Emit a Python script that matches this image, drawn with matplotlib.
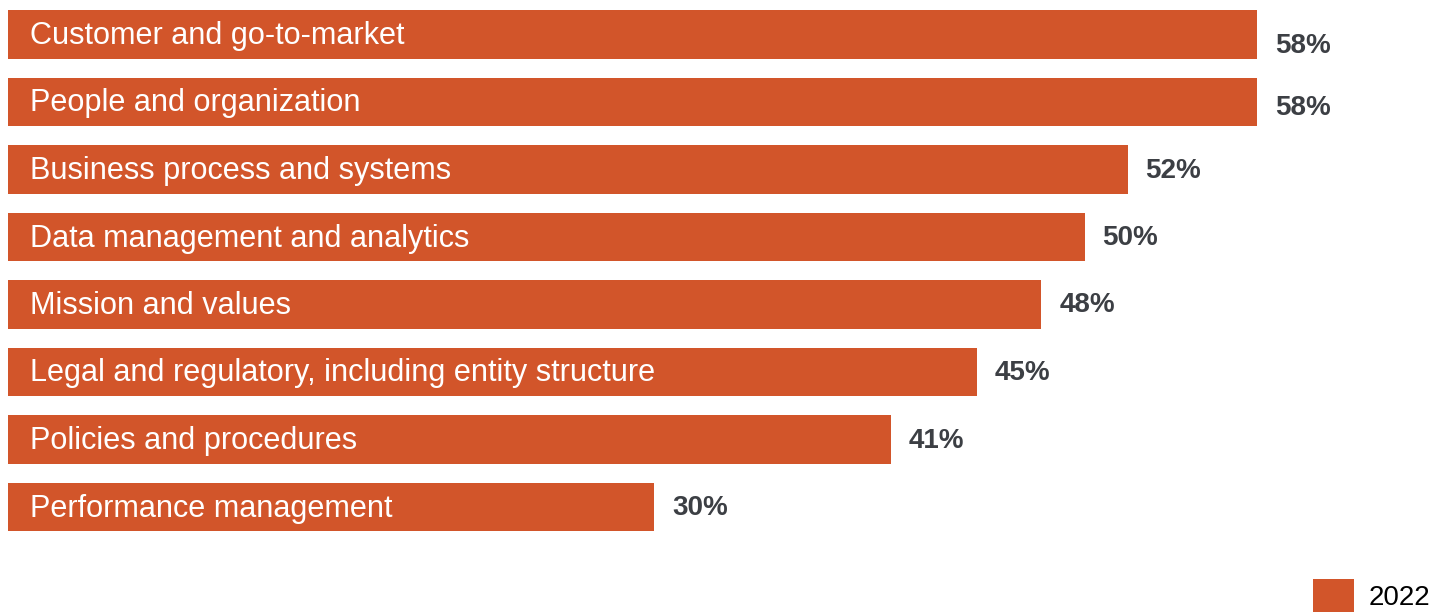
import matplotlib
matplotlib.use('Agg')
import matplotlib.pyplot as plt
from matplotlib.patches import Patch

plt.rcParams['font.family'] = ['Liberation Sans', 'DejaVu Sans']

# Share of respondents per area, 2022
categories = [
    'Customer and go-to-market',
    'People and organization',
    'Business process and systems',
    'Data management and analytics',
    'Mission and values',
    'Legal and regulatory, including entity structure',
    'Policies and procedures',
    'Performance management',
]
values = [58, 58, 52, 50, 48, 45, 41, 30]
series_name = '2022'

bar_color = '#D2552A'
value_color = '#3C3F44'

W, H = 1445, 614
fig = plt.figure(figsize=(W / 100, H / 100), dpi=100)
# axes from x=8px to right edge, full height
ax = fig.add_axes([8 / W, 0, 1 - 8 / W, 1])

y = list(range(len(categories)))
ax.barh(y, values, height=0.725, color=bar_color)

px_per_unit = 21.53
row_px = 67.5
ax.set_xlim(0, (W - 8) / px_per_unit)
ax.set_ylim((H - 34.5) / row_px, -34.5 / row_px)

# baseline offsets (px below bar centre); top two value labels sit lower
label_dy = [18.5, 13, 8, 8, 8, 8, 8.5, 8]

for i, (cat, v) in enumerate(zip(categories, values)):
    ax.text(22 / px_per_unit, i + 9.5 / row_px, cat, color='white',
            fontsize=22.1, va='baseline', ha='left')
    ax.text(v + 18 / px_per_unit, i + label_dy[i] / row_px, f'{v}%',
            color=value_color, fontsize=20, fontweight='bold',
            va='baseline', ha='left')

ax.axis('off')

handle = Patch(facecolor=bar_color, edgecolor='none')
fig.legend([handle], [series_name], loc='upper left',
           bbox_to_anchor=(1313 / W, 1 - 579 / H), frameon=False,
           fontsize=20, handlelength=1.47, handleheight=1.47,
           handletextpad=0.55, borderpad=0, borderaxespad=0)

fig.savefig('out.png', dpi=100)
